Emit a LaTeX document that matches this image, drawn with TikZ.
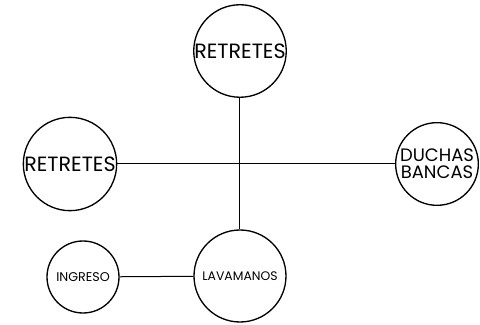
\documentclass[tikz,border=0pt]{standalone}
\usepackage{fontspec}
\setmainfont{Poppins}
\begin{document}
\begin{tikzpicture}[x=0.75pt,y=0.75pt,
  room/.style={draw,circle,line width=1pt,inner sep=0pt,align=center}]
  \useasboundingbox (0,0) rectangle (480,325);
  \node[room,minimum size=69pt,font=\fontsize{15.5}{15.5}\selectfont] (wctop) at (240,274) {RETRETES};
  \node[room,minimum size=70pt,font=\fontsize{15.5}{15.5}\selectfont] (wcleft) at (70,161) {RETRETES};
  \node[room,minimum size=62pt,font=\fontsize{13.5}{13}\selectfont] (duchas) at (437,161) {DUCHAS\\BANCAS};
  \node[room,minimum size=69pt,font=\fontsize{9.3}{9}\selectfont] (lava) at (240,49) {LAVAMANOS};
  \node[room,minimum size=54pt,font=\fontsize{9.5}{9}\selectfont] (ingreso) at (83,48) {INGRESO};
  \draw[line width=0.75pt] (wcleft) -- (duchas);
  \draw[line width=0.75pt] (wctop) -- (lava);
  \draw[line width=0.75pt] (ingreso) -- (lava);
\end{tikzpicture}
\end{document}
